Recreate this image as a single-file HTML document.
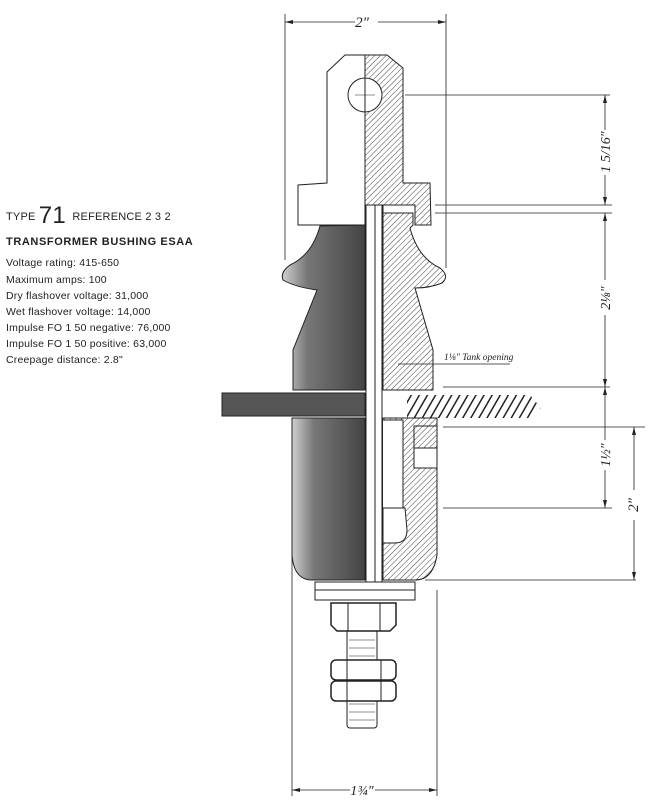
<!DOCTYPE html>
<html><head><meta charset="utf-8"><style>
body{margin:0;background:#fff;width:651px;height:800px;overflow:hidden;font-family:"Liberation Sans",sans-serif;}
.t{position:absolute;left:6px;font-size:10.5px;color:#222;letter-spacing:0.2px;white-space:nowrap}
</style></head><body>
<div class="t" style="top:202px;font-size:11px;">TYPE <span style="font-size:24px;vertical-align:-3px">71</span>&nbsp; REFERENCE 2 3 2</div>
<div class="t" style="top:236px;font-weight:bold;font-size:11px;letter-spacing:0.6px">TRANSFORMER BUSHING ESAA</div>
<div class="t" style="top:257px">Voltage rating: 415-650</div>
<div class="t" style="top:274px">Maximum amps: 100</div>
<div class="t" style="top:290px">Dry flashover voltage: 31,000</div>
<div class="t" style="top:306px">Wet flashover voltage: 14,000</div>
<div class="t" style="top:322px">Impulse FO 1 50 negative: 76,000</div>
<div class="t" style="top:338px">Impulse FO 1 50 positive: 63,000</div>
<div class="t" style="top:354px">Creepage distance: 2.8"</div>
<svg width="651" height="800" style="position:absolute;left:0;top:0" xmlns="http://www.w3.org/2000/svg">
<defs>
<pattern id="h" width="4" height="4" patternUnits="userSpaceOnUse" patternTransform="rotate(45)"><rect width="4" height="4" fill="#fff"/><line x1="0" y1="0" x2="0" y2="4" stroke="#444" stroke-width="1"/></pattern>
<pattern id="h2" width="7" height="7" patternUnits="userSpaceOnUse" patternTransform="rotate(30)"><rect width="7" height="7" fill="#fff"/><line x1="0" y1="0" x2="0" y2="7" stroke="#222" stroke-width="3"/></pattern>
<linearGradient id="d" x1="0" x2="1"><stop offset="0" stop-color="#d0d0d0"/><stop offset="0.3" stop-color="#777"/><stop offset="1" stop-color="#444"/></linearGradient>
</defs>
<g stroke="#222" stroke-width="1" fill="none">
<!-- dark porcelain left -->
<path d="M365,225 L320,226 Q312,255 290,265 Q280,272 283,280 Q295,287 317,290 L293,350 L293,390 L365,390 Z" fill="url(#d)"/>
<path d="M365,418 L292,418 L292,555 Q294,580 312,580 L365,580 Z" fill="url(#d)"/>
<!-- tank plate -->
<path d="M222,393 L365,393 L365,416 L222,416 Z" fill="#555"/>
<path d="M407,395 L530,395 L541,408 L530,418 L407,418 Z" fill="url(#h2)" stroke="none"/>
<!-- terminal left (white) -->
<path d="M365,55 L345,55 L327,72 L327,183 L298,185 L298,225 L365,225" fill="#fff"/>
<!-- right hatched terminal -->
<path d="M365,55 L387,55 L403,68 L403,183 L430,183 L431,225 L415,225 L415,205 L383,205 L383,225 L365,225 Z" fill="url(#h)"/>
<!-- right porcelain -->
<path d="M383,213 L413,213 L413,225 L410,228 Q418,258 440,268 Q450,276 442,283 Q430,288 415,288 L433,350 L433,390 L383,390 Z" fill="url(#h)"/>
<path d="M383,418 L437,418 L437,555 Q433,580 415,580 L383,580 Z" fill="url(#h)"/>
<rect x="414" y="426" width="23" height="22" fill="url(#h)"/>
<rect x="414" y="448" width="23" height="20" fill="#fff"/>
<path d="M383,420 L403,420 L403,508 L383,508" fill="#fff"/>
<path d="M383,508 L405,508 L407,530 Q407,543 395,543 L383,543 Z" fill="#fff"/>
<!-- rod -->
<rect x="366" y="205" width="16" height="378" fill="#fff"/>
<line x1="375" y1="205" x2="375" y2="583"/>
<circle cx="365" cy="95" r="17" fill="#fff"/>
<line x1="355" y1="95" x2="375" y2="95" stroke-width="0.6"/><line x1="365" y1="85" x2="365" y2="105" stroke-width="0.6"/>
<line x1="365" y1="55" x2="365" y2="225"/>
<!-- washer nut stud -->
<rect x="315" y="582" width="100" height="8" fill="#fff"/>
<rect x="315" y="590" width="100" height="10" fill="#fff"/>
<rect x="347" y="630" width="30" height="98" rx="3" fill="#fff"/>
<g stroke-width="0.6"><path d="M349,640 H375 M349,648 H375 M349,656 H375 M349,704 H375 M349,712 H375 M349,720 H375"/></g>
<path d="M331,603 L396,603 L396,625 L390,631 L337,631 L331,625 Z" fill="#fff" stroke-width="1.5"/>
<line x1="348" y1="603" x2="348" y2="631"/><line x1="380" y1="603" x2="380" y2="631"/>
<rect x="331" y="660" width="65" height="20" rx="5" fill="#fff" stroke-width="1.5"/>
<rect x="331" y="681" width="65" height="20" rx="5" fill="#fff" stroke-width="1.5"/>
<line x1="347" y1="660" x2="347" y2="701"/><line x1="381" y1="660" x2="381" y2="701"/>
<!-- dimension lines -->
<g stroke-width="0.8">
<line x1="285" y1="14" x2="285" y2="260"/><line x1="446" y1="14" x2="446" y2="268"/>
<line x1="285" y1="22" x2="355" y2="22"/><line x1="378" y1="22" x2="446" y2="22"/>
<line x1="405" y1="95" x2="610" y2="95"/>
<line x1="435" y1="205" x2="612" y2="205"/><line x1="435" y1="213" x2="612" y2="213"/>
<line x1="443" y1="387" x2="610" y2="387"/>
<line x1="443" y1="427" x2="645" y2="427"/>
<line x1="443" y1="508" x2="612" y2="508"/>
<line x1="425" y1="580" x2="636" y2="580"/>
<line x1="605" y1="95" x2="605" y2="130"/><line x1="605" y1="175" x2="605" y2="205"/>
<line x1="605" y1="213" x2="605" y2="280"/><line x1="605" y1="315" x2="605" y2="387"/>
<line x1="605" y1="387" x2="605" y2="440"/><line x1="605" y1="470" x2="605" y2="508"/>
<line x1="634" y1="427" x2="634" y2="490"/><line x1="634" y1="520" x2="634" y2="580"/>
<line x1="292" y1="555" x2="292" y2="796"/><line x1="437" y1="590" x2="437" y2="796"/>
<line x1="292" y1="790" x2="350" y2="790"/><line x1="375" y1="790" x2="437" y2="790"/>
<line x1="398" y1="364" x2="510" y2="364"/>
</g>
</g>
<g fill="#222">
<path d="M285,22 l8,-2 v4 z M446,22 l-8,-2 v4 z M292,790 l8,-2 v4 z M437,790 l-8,-2 v4 z M605,95 l-2,8 h4 z M605,205 l-2,-8 h4 z M605,213 l-2,8 h4 z M605,387 l-2,-8 h4 z M605,387 l-2,8 h4 z M605,508 l-2,-8 h4 z M634,427 l-2,8 h4 z M634,580 l-2,-8 h4 z"/>
</g>
<g font-family="Liberation Serif,serif" font-style="italic" fill="#222">
<text x="362" y="27" font-size="15" text-anchor="middle">2"</text>
<text x="362" y="795" font-size="14" text-anchor="middle">1¾"</text>
<text transform="translate(610,152) rotate(-90)" font-size="14" text-anchor="middle">1 5/16"</text>
<text transform="translate(610,298) rotate(-90)" font-size="14" text-anchor="middle">2⅛"</text>
<text transform="translate(610,455) rotate(-90)" font-size="14" text-anchor="middle">1½"</text>
<text transform="translate(638,505) rotate(-90)" font-size="15" text-anchor="middle">2"</text>
<text x="444" y="360" font-size="9.5">1⅛" Tank opening</text>
</g>
</svg>
</body></html>
